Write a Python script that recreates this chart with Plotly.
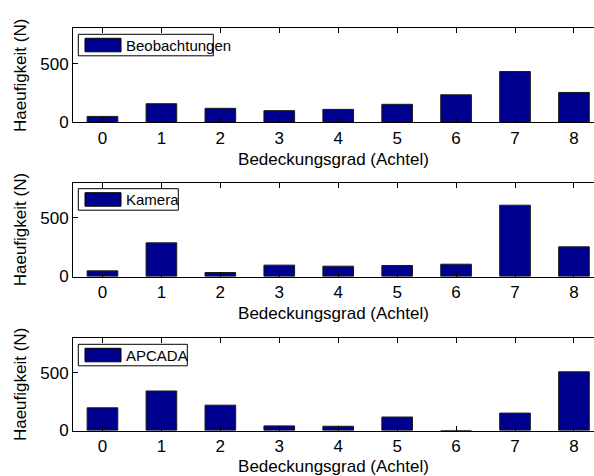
import plotly.graph_objects as go

categories = [0, 1, 2, 3, 4, 5, 6, 7, 8]
beobachtungen = [50, 158, 119, 99, 110, 153, 234, 432, 254]
kamera = [48, 287, 34, 97, 88, 94, 105, 608, 253]
apcada = [197, 343, 220, 40, 37, 117, 0, 151, 509]
series_names = ["Beobachtungen", "Kamera", "APCADA"]
series_values = [beobachtungen, kamera, apcada]
y_ticks = [0, 500]
x_title = "Bedeckungsgrad (Achtel)"
y_title = "Haeufigkeit (N)"

W, H = 594, 476
FONT = "Liberation Sans, Arial, Helvetica, sans-serif"
BAR_COLOR = "#00008F"

# panel pixel boxes (top, bottom)
panels = [(28.3, 122.3), (182.7, 276.5), (338.3, 430.5)]
left_px = 73

fig = go.Figure()
layout = dict(
    width=W, height=H,
    margin=dict(l=left_px, r=0, t=0, b=0),
    paper_bgcolor="white", plot_bgcolor="white",
    showlegend=False,
    font=dict(family=FONT, size=17, color="black"),
)
shapes = []
annotations = []

for i, (name, vals) in enumerate(zip(series_names, series_values)):
    k = "" if i == 0 else str(i + 1)
    fig.add_trace(go.Bar(
        x=categories, y=vals, width=0.52, name=name,
        marker=dict(color=BAR_COLOR, line=dict(color="#1a1a1a", width=1)),
        xaxis="x" + k, yaxis="y" + k,
    ))
    top, bot = panels[i]
    dom = [(H - bot) / H, (H - top) / H]
    layout["xaxis" + k] = dict(
        domain=[0, 1], anchor="y" + k, range=[-0.5, 8.34],
        tickmode="array", tickvals=categories, ticktext=[str(c) for c in categories],
        ticks="inside", ticklen=5, tickwidth=1, tickcolor="black",
        showline=True, linecolor="black", linewidth=1, mirror="ticks",
        showgrid=False, zeroline=False, automargin=False,
        tickfont=dict(family=FONT, size=17),
        title=dict(text=x_title, standoff=6, font=dict(family=FONT, size=17)),
    )
    layout["yaxis" + k] = dict(
        domain=dom, anchor="x" + k, range=[0, 800],
        tickmode="array", tickvals=y_ticks, ticktext=[str(t) for t in y_ticks],
        ticks="inside", ticklen=5, tickwidth=1, tickcolor="black",
        showline=True, linecolor="black", linewidth=1, mirror=False,
        showgrid=False, zeroline=False, automargin=False,
        tickfont=dict(family=FONT, size=17),
        title=dict(text=y_title, standoff=9, font=dict(family=FONT, size=17)),
    )
    # legend box (drawn manually to match the original swatch style)
    bw = [135, 100, 109][i]
    bx0, bx1 = 78.3, 78.3 + bw
    by0, by1 = top + 6, top + 27.5
    shapes.append(dict(type="rect", xref="paper", yref="paper",
                       x0=(bx0 - left_px) / (W - left_px), x1=(bx1 - left_px) / (W - left_px),
                       y0=(H - by1) / H, y1=(H - by0) / H,
                       line=dict(color="black", width=1), fillcolor="white", layer="above"))
    shapes.append(dict(type="rect", xref="paper", yref="paper",
                       x0=(85 - left_px) / (W - left_px), x1=(121 - left_px) / (W - left_px),
                       y0=(H - (by0 + 17.5)) / H, y1=(H - (by0 + 4)) / H,
                       line=dict(color="black", width=1), fillcolor=BAR_COLOR, layer="above"))
    annotations.append(dict(text=name, xref="paper", yref="paper",
                            x=(124 - left_px) / (W - left_px), y=(H - (by0 + 11)) / H,
                            xanchor="left", yanchor="middle", showarrow=False,
                            font=dict(family=FONT, size=15, color="black")))

layout["shapes"] = shapes
layout["annotations"] = annotations
fig.update_layout(**layout)
fig.write_html("out.html")
